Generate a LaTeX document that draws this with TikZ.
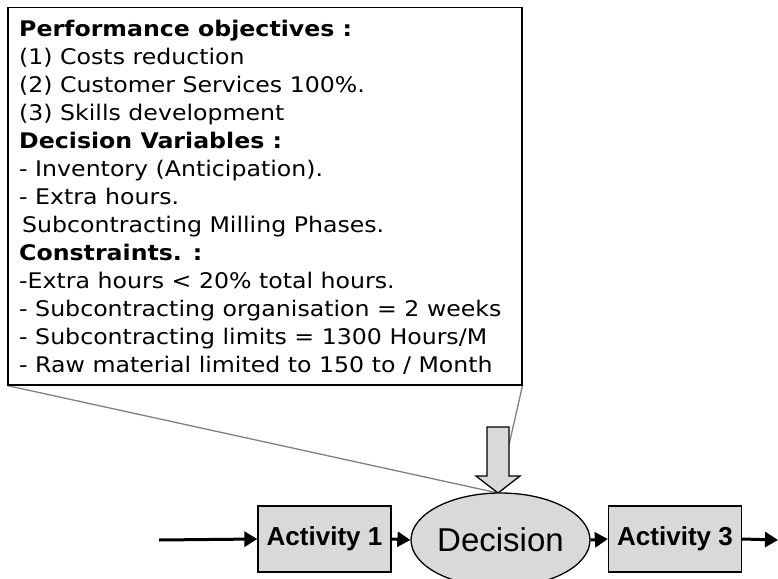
\documentclass[tikz,border=0pt]{standalone}
\usepackage{fontspec}
\setmainfont[FakeStretch=1.1]{DejaVu Sans}
\newfontfamily\arialfont{Liberation Sans}
\usetikzlibrary{arrows.meta,shapes.geometric,backgrounds}

\definecolor{boxgray}{RGB}{217,217,217}
\definecolor{pointergray}{RGB}{128,128,128}

\tikzset{
  calloutbox/.style={draw=black, line width=1.5pt, fill=white, rectangle, inner sep=0pt},
  calloutpointer/.style={draw=pointergray, line width=1.3pt},
  bodytext/.style={font=\fontsize{21.5}{28}\selectfont, align=left, inner sep=0pt, anchor=north west},
  activitybox/.style={draw=black, line width=1.3pt, fill=boxgray, rectangle, inner sep=0pt,
    minimum width=133pt, minimum height=66pt, font=\arialfont\bfseries\fontsize{26}{30}\selectfont},
  decisionnode/.style={draw=black, line width=1.3pt, fill=boxgray, ellipse, inner sep=0pt,
    minimum width=131pt, minimum height=94pt, font=\arialfont\fontsize{33}{38}\selectfont},
  flow/.style={draw=black, line width=3pt, -{Triangle[length=13pt,width=15pt]}},
  blockarrow/.style={draw=black, line width=1.3pt, fill=boxgray, line join=miter}
}

\begin{document}
\begin{tikzpicture}[x=1pt,y=-1pt]
  \useasboundingbox (0,0) rectangle (778,578);

  % objectives / variables / constraints box
  \node[calloutbox, minimum width=514pt, minimum height=377pt, anchor=north west] (box) at (7,7) {};
  \node[bodytext] (content) at (19,19.5) {%
    \textbf{Performance objectives :}\\
    (1) Costs reduction\\
    (2) Customer Services 100\%.\\
    (3) Skills development\\
    \textbf{Decision Variables :}\\
    - Inventory (Anticipation).\\
    - Extra hours.\\
    \hspace*{3pt}Subcontracting Milling Phases.\\
    \textbf{Constraints. :}\\
    -Extra hours < 20\% total hours.\\
    - Subcontracting organisation = 2 weeks\\
    - Subcontracting limits = 1300 Hours/M\\
    - Raw material limited to 150 to / Month};

  % block arrow feeding the decision
  \coordinate (tip) at (498,493);
  \draw[blockarrow] (487,427) -- (509,427) -- (509,476) -- (520,476) -- (tip)
    -- (476,476) -- (487,476) -- cycle;

  % process chain
  \node[activitybox] (act1) at (324.5,539) {Activity 1};
  \node[decisionnode] (decision) at (500.5,540) {Decision};
  \node[activitybox] (act3) at (675,539) {Activity 3};
  \coordinate (in) at (159,540);
  \coordinate (out) at (778,540);

  \draw[flow] (in) -- (act1.west);
  \draw[flow] (act1.east) -- (decision.west);
  \draw[flow] (decision.east) -- (act3.west);
  \draw[flow] (act3.east) -- (out);

  % callout pointer from the box to the decision, behind everything
  \begin{scope}[on background layer]
    \draw[calloutpointer] (box.south west) -- (tip);
    \draw[calloutpointer] (box.south east) -- (tip);
  \end{scope}
\end{tikzpicture}
\end{document}
